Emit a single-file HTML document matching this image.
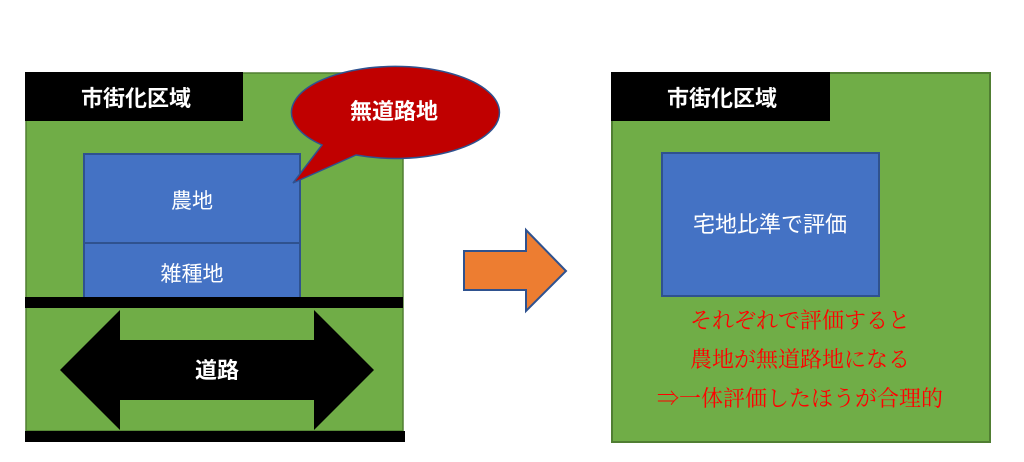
<!DOCTYPE html>
<html><head><meta charset="utf-8"><style>
body{margin:0;width:1024px;height:457px;background:#fff;overflow:hidden}
svg text{font-family:"Liberation Sans","Noto Sans CJK JP",sans-serif}
</style></head><body>
<svg width="1024" height="457" viewBox="0 0 1024 457">
<rect x="26" y="73" width="377" height="358" fill="#70ad47" stroke="#507e32" stroke-width="1.5"/>
<rect x="25" y="72" width="218" height="49" fill="#000"/>
<text x="136" y="106" fill="#fff" font-size="22" font-weight="bold" text-anchor="middle">市街化区域</text>
<rect x="84" y="154" width="216" height="89" fill="#4472c4" stroke="#2f528f" stroke-width="2"/>
<rect x="84" y="243" width="216" height="55" fill="#4472c4" stroke="#2f528f" stroke-width="2"/>
<text x="192" y="208" fill="#fff" font-size="21" text-anchor="middle">農地</text>
<text x="192" y="281" fill="#fff" font-size="21" text-anchor="middle">雑種地</text>
<rect x="25" y="297" width="378" height="11" fill="#000"/>
<rect x="25" y="431" width="380" height="11" fill="#000"/>
<polygon points="60,370 120,310 120,340 314,340 314,310 374,370 314,430 314,400 120,400 120,430" fill="#000"/>
<text x="217" y="378" fill="#fff" font-size="22" font-weight="bold" text-anchor="middle">道路</text>
<path d="M293,183 L322,145 A104,46 0 1 1 356,155 Z" fill="#c00000" stroke="#2f528f" stroke-width="1.5"/>
<text x="394" y="119" fill="#fff" font-size="22" font-weight="bold" text-anchor="middle">無道路地</text>
<polygon points="464,251 526,251 526,230 566,271 526,311 526,290 464,290" fill="#ed7d31" stroke="#2f528f" stroke-width="2"/>
<rect x="612" y="73" width="378" height="369" fill="#70ad47" stroke="#507e32" stroke-width="2"/>
<rect x="611" y="72" width="219" height="49" fill="#000"/>
<text x="722" y="106" fill="#fff" font-size="22" font-weight="bold" text-anchor="middle">市街化区域</text>
<rect x="662" y="153" width="217" height="143" fill="#4472c4" stroke="#2f528f" stroke-width="2"/>
<text x="770" y="232" fill="#fff" font-size="22" text-anchor="middle">宅地比準で評価</text>
<g fill="#ff0000" font-size="22" text-anchor="middle">
<text x="800" y="328" style="font-family:'Liberation Serif','Noto Serif CJK SC',serif">それぞれで評価すると</text>
<text x="800" y="367" style="font-family:'Liberation Serif','Noto Serif CJK SC',serif">農地が無道路地になる</text>
<text x="800" y="406" style="font-family:'Liberation Serif','Noto Serif CJK SC',serif">⇒一体評価したほうが合理的</text>
</g>
</svg>
</body></html>
